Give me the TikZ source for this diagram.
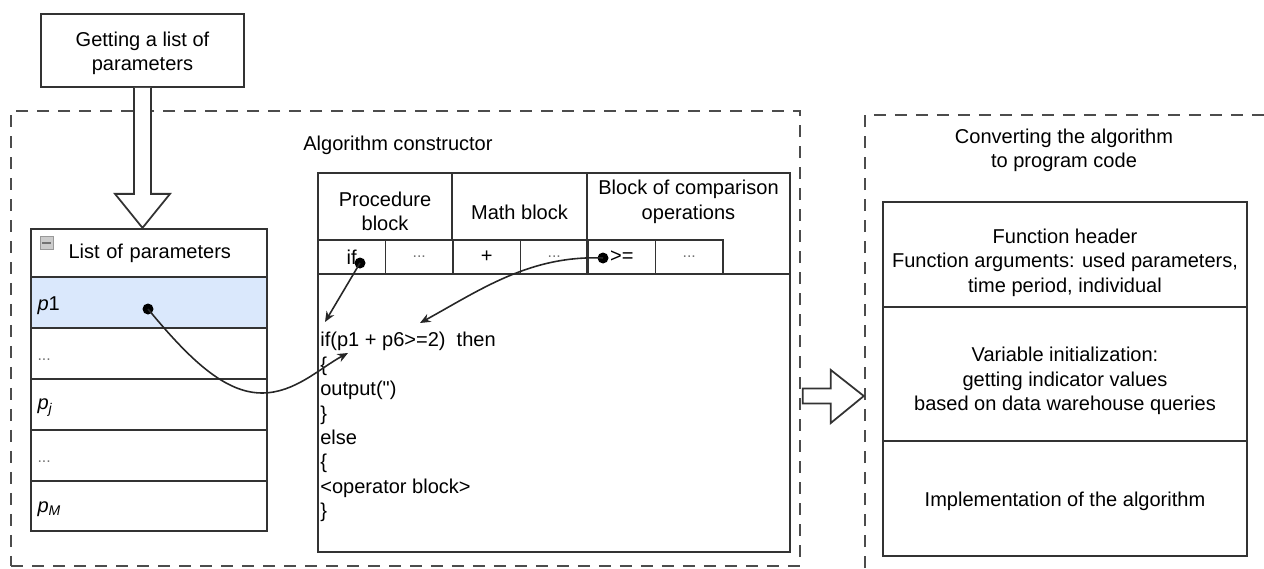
\documentclass[tikz,border=0pt]{standalone}
\usepackage{fontspec}
\setmainfont{Liberation Sans}
\newfontfamily\codefont{Liberation Sans}
\usetikzlibrary{arrows.meta,positioning,calc}

\newcommand{\lstdots}{{\color{black!55}\small...}}
\newcommand{\rowtxt}[2][1.7pt]{\raisebox{-#1}[\height][\depth]{#2}}

\begin{document}
\begin{tikzpicture}[
    x=0.02cm, y=-0.02cm,
    font=\fontsize{11.4pt}{13.9pt}\selectfont,
    box/.style={rectangle, draw=black!80, line width=1pt, inner sep=0pt, align=center},
    row/.style={box, minimum width=4.72cm, minimum height=1.01cm, text width=4.46cm, align=left},
    cell/.style={box, minimum width=1.35cm, minimum height=0.68cm},
    txt/.style={align=center, inner sep=0pt},
    frame/.style={draw=black!70, line width=1pt, dash pattern=on 0.24cm off 0.18cm},
    hollow/.style={draw=black!80, line width=1pt, fill=white},
    dot/.style={circle, fill=black, inner sep=0pt, minimum size=0.22cm},
    conn/.style={draw=black!85, line width=0.9pt, -{Stealth[length=6pt,width=5pt]}}
]
\useasboundingbox (0,0) rectangle (1264,568);

% frames
\node (constr) at (405.5,338.5) [frame, rectangle, minimum width=15.78cm, minimum height=9.1cm] {};
\node (constrT) at (303,145) [anchor=west, inner sep=0pt] {Algorithm constructor};
\draw[frame] (865,568) -- (865,115) -- (1264,115);
\node (convT) at (1064,150.5) [txt] {Converting the algorithm\\to program code};

% input
\node (get) at (142.5,50.5) [box, minimum width=4.06cm, minimum height=1.46cm] {};
\node (getT) at (142.5,53.5) [txt] {Getting a list of\\parameters};
\begin{scope}[shift={(get.south)}]
  \draw[hollow] (-8.5,0) -- (-8.5,106) -- (-27.5,106) -- (0,140) -- (27.5,106) -- (8.5,106) -- (8.5,0);
\end{scope}

% List of parameters
\node (lhead) at (149,253.5) [row, minimum height=0.98cm] {\hspace*{0.62cm}List of parameters};
\node (icon) at (46.5,243) [rectangle, draw=black!40, fill=black!20, minimum size=0.26cm, inner sep=0pt] {};
\draw[black!55, line width=1.6pt] ($(icon.west)+(2.5,0)$) -- ($(icon.east)+(-2.5,0)$);
\node (lp1) at (149,302.5) [row, fill={rgb,255:red,218;green,232;blue,252}, draw=black!80] {\rowtxt{\textit{p}1}};
\node (ld1) at (149,353.5) [row] {\rowtxt[3.4pt]{\lstdots}};
\node (lpj) at (149,404.5) [row] {\rowtxt{\textit{p}\textsubscript{\textit{j}}}};
\node (ld2) at (149,455.5) [row] {\rowtxt[3.4pt]{\lstdots}};
\node (lpm) at (149,506) [row] {\rowtxt{\textit{p}\textsubscript{\textit{M}}}};

% constructor table
\node (proc) at (385,206.5) [box, minimum width=2.68cm, minimum height=1.34cm] {};
\node (procT) at (385,211.5) [txt] {Procedure\\block};
\node (math) at (519.5,206.5) [box, minimum width=2.7cm, minimum height=1.34cm] {};
\node (mathT) at (519.5,212.5) [txt] {Math block};
\node (cmp) at (688.5,223.5) [box, minimum width=4.06cm, minimum height=2.02cm] {};
\node (cmpT) at (688.5,202) [txt] {Block of comparison\\operations};
\foreach \i/\t in {0/if, 1/\lstdots, 2/+, 3/\lstdots, 4/>=, 5/\lstdots} {
  \node (op\i) at ({351.75 + \i*67.5},257) [cell] {\t};
}
\node (body) at (554,413) [box, minimum width=9.44cm, minimum height=5.56cm] {};
\node (code) at (320,332) [anchor=north west, inner sep=0pt, align=left]
  {if(p1 + p6>=2)\ \ then\\\{\\output({\codefont"})\\\}\\else\\\{\\<operator block>\\\}};

% program code
\node (fhead) at (1065,254.5) [box, minimum width=7.28cm, minimum height=2.1cm] {};
\node (fheadT) at (1065,262.5) [txt] {Function header\\Function arguments: used parameters,\\time period, individual};
\node (finit) at (1065,374) [box, minimum width=7.28cm, minimum height=2.68cm] {};
\node (finitT) at (1065,381) [txt] {Variable initialization:\\getting indicator values\\based on data warehouse queries};
\node (fimpl) at (1065,498.5) [box, minimum width=7.28cm, minimum height=2.3cm] {};
\node (fimplT) at (1065,501.5) [txt] {Implementation of the algorithm};

\begin{scope}[shift={($(constr.east)+(0,57.5)$)}]
  \draw[hollow] (2,-7.5) -- (30,-7.5) -- (30,-26) -- (63,0) -- (30,27) -- (30,7.5) -- (2,7.5) -- cycle;
\end{scope}

% links
\node (dIf) at (360,263) [dot] {};
\node (dGe) at (603,258) [dot] {};
\node (dP) at (148,309) [dot] {};
\coordinate (tIf) at (325,322);
\coordinate (tGe) at (420,323);
\coordinate (tP) at (348,353);
\coordinate (low) at (262,393);
\draw[conn] (dIf.center) -- (tIf);
\draw[conn] (dGe.center) .. controls (530,255) and (480,290) .. (tGe);
\draw[conn] (dP.center) .. controls (190,360) and (225,393) .. (low) .. controls (295,393) and (320,368) .. (tP);

\end{tikzpicture}
\end{document}
